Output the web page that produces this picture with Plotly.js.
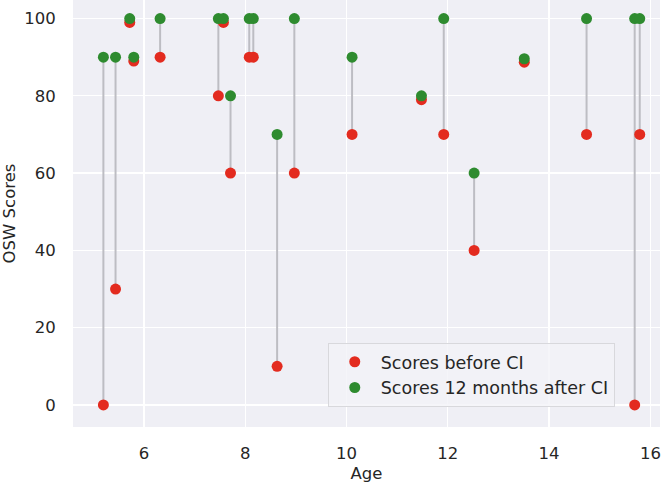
<!DOCTYPE html>
<html>
<head>
<meta charset="utf-8">
<script src="https://cdn.plot.ly/plotly-3.0.1.min.js"></script>
<style>html,body{margin:0;padding:0;background:#fff;}#chart{width:672px;height:485px;}</style>
</head>
<body>
<div id="chart"></div>
<script>
// Data
var ages = [5.20, 5.44, 5.72, 5.80, 6.32, 7.47, 7.57, 7.71, 8.08, 8.16, 8.63, 8.97, 10.11, 11.48, 11.92, 12.52, 13.51, 14.74, 15.69, 15.79];
var scoresBefore = [0, 30, 99, 89, 90, 80, 99, 60, 90, 90, 10, 60, 70, 79, 70, 40, 88.7, 70, 0, 70];
var scoresAfter = [90, 90, 100, 90, 100, 100, 100, 80, 100, 100, 70, 100, 90, 80, 100, 60, 89.6, 100, 100, 100];
var seriesNames = ["Scores before CI", "Scores 12 months after CI"];
var xTicks = [6, 8, 10, 12, 14, 16];
var yTicks = [0, 20, 40, 60, 80, 100];

var lx = [], ly = [];
for (var i = 0; i < ages.length; i++) {
  lx.push(ages[i], ages[i], null);
  ly.push(scoresBefore[i], scoresAfter[i], null);
}

var font = {family: "DejaVu Sans, sans-serif", size: 16.5, color: "#262626"};
var legendFont = {family: "DejaVu Sans, sans-serif", size: 17.5, color: "#262626"};

var traces = [
  {x: lx, y: ly, mode: "lines", type: "scatter", line: {color: "#bdbdc3", width: 2}, showlegend: false, hoverinfo: "skip"},
  {x: ages, y: scoresBefore, mode: "markers", type: "scatter", name: seriesNames[0],
   marker: {color: "#e32b1f", size: 11}},
  {x: ages, y: scoresAfter, mode: "markers", type: "scatter", name: seriesNames[1],
   marker: {color: "#2e8b2f", size: 11}}
];

var layout = {
  width: 672, height: 485,
  margin: {l: 73, r: 12, t: 0, b: 58},
  paper_bgcolor: "#ffffff",
  plot_bgcolor: "#efeff5",
  font: font,
  xaxis: {
    range: [4.6, 16.19], tickvals: xTicks, ticktext: xTicks.map(String),
    showgrid: true, gridcolor: "#ffffff", gridwidth: 1.3, zeroline: false, showline: false,
    ticks: "outside", ticklen: 11, tickcolor: "rgba(0,0,0,0)",
    title: {text: "Age", font: font, standoff: 5}
  },
  yaxis: {
    range: [-5.7, 104.8], tickvals: yTicks, ticktext: yTicks.map(String),
    showgrid: true, gridcolor: "#ffffff", gridwidth: 1.3, zeroline: false, showline: false,
    ticks: "outside", ticklen: 13, tickcolor: "rgba(0,0,0,0)",
    title: {text: "OSW Scores", font: font, standoff: 6}
  },
  legend: {
    x: 0.434, y: 0.197, xanchor: "left", yanchor: "top",
    bgcolor: "rgba(242,242,247,0.8)", bordercolor: "#d8d8dc", borderwidth: 1,
    font: legendFont, tracegroupgap: 0, itemwidth: 42
  },
  showlegend: true
};

Plotly.newPlot("chart", traces, layout, {displayModeBar: false, staticPlot: true});
</script>
</body>
</html>
